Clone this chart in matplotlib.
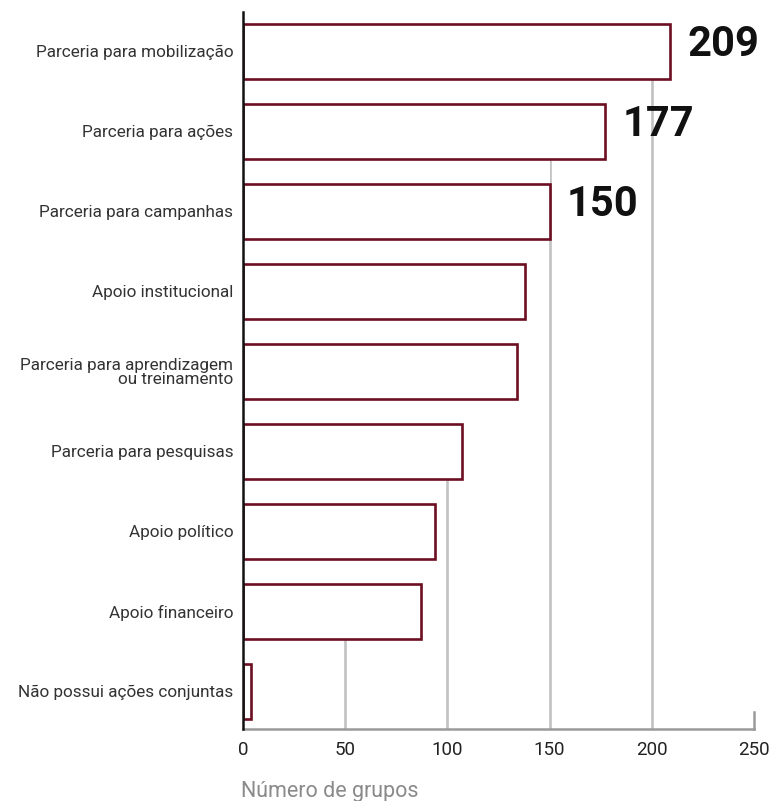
import matplotlib
matplotlib.use("Agg")
import matplotlib.pyplot as plt
from matplotlib.transforms import blended_transform_factory

categories = [
    "Parceria para mobilização",
    "Parceria para ações",
    "Parceria para campanhas",
    "Apoio institucional",
    "Parceria para aprendizagem\nou treinamento",
    "Parceria para pesquisas",
    "Apoio político",
    "Apoio financeiro",
    "Não possui ações conjuntas",
]
values = [209, 177, 150, 138, 134, 107, 94, 87, 4]
labelled = [209, 177, 150]
x_ticks = [0, 50, 100, 150, 200, 250]

MAROON = "#6d0f22"
GRID = "#c2c2c2"
BAR_H = 0.69

fig = plt.figure(figsize=(7.72, 8.01), dpi=100)
ax = fig.add_axes([0.3148, 0.090, 0.662, 0.895])

y = list(range(len(categories)))

for xv in x_ticks[1:-1]:
    ax.axvline(xv, color=GRID, lw=1.9, zorder=1)

# white backing behind each bar and the gap above it, so grid lines only
# show below the lowest bar that reaches them
ax.barh([yi - (1 - BAR_H) / 2 for yi in y], values, height=1.0,
        color="white", edgecolor="none", zorder=1.5)

ax.barh(y, values, height=BAR_H, color="white", edgecolor=MAROON,
        linewidth=1.9, zorder=2)

for yi, v in zip(y, values):
    if v in labelled:
        ax.text(v + 8.5, yi - 0.09, str(v), ha="left", va="center",
                fontsize=30, fontweight="bold", color="#111111",
                family=["Roboto", "DejaVu Sans"], zorder=3)

ax.set_xlim(0, 250)
ax.set_ylim(len(categories) - 0.53, -0.49)

ax.set_yticks(y)
ax.set_yticklabels(categories, fontsize=12.3, color="#333333",
                   family=["Roboto", "DejaVu Sans"], linespacing=0.95)
ax.set_xticks(x_ticks)
ax.set_xticklabels([str(t) for t in x_ticks], fontsize=13.5, color="#222222",
                   family=["Roboto", "DejaVu Sans"])
ax.tick_params(axis="y", length=0, pad=7)
ax.tick_params(axis="x", length=0, pad=9)

for side in ("top", "right"):
    ax.spines[side].set_visible(False)
ax.spines["left"].set_color("#111111")
ax.spines["left"].set_linewidth(1.8)
ax.spines["left"].set_zorder(4)
ax.spines["bottom"].set_color("#9a9a9a")
ax.spines["bottom"].set_linewidth(1.8)

ax.axvline(250, ymin=0, ymax=0.024, color="#9a9a9a", lw=1.8, clip_on=False)

trans = blended_transform_factory(ax.transData, ax.transAxes)
ax.text(-0.8, -0.088, "Número de grupos", transform=trans, ha="left",
        va="center", fontsize=15.5, color="#8a8a8a",
        family=["Roboto", "DejaVu Sans"])

fig.savefig("out.png", dpi=100)
